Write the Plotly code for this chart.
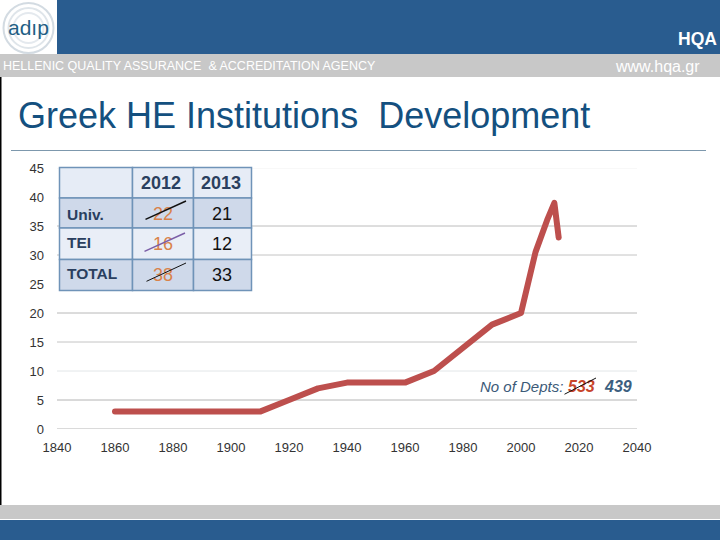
import plotly.graph_objects as go

W, H = 720, 540

years = [1860, 1880, 1900, 1910, 1920, 1930, 1940, 1950, 1960, 1970, 1980, 1990, 2000, 2005, 2009, 2011.5, 2013]
depts = [3, 3, 3, 3, 5, 7, 8, 8, 8, 10, 14, 18, 20, 30.5, 36, 39, 33]

grid_levels = [0, 5, 10, 15, 20, 30, 35, 45]
grid_colors = ["#b4b4b4", "#b4b4b4", "#e2e6e8", "#c4c4c4", "#b8b8b8", "#c4c4c4", "#bcbcbc", "#f2f2f2"]

table_header = ["", "2012", "2013"]
table_rows = ["Univ.", "TEI", "TOTAL"]
table_2012 = ["22", "16", "38"]
table_2013 = ["21", "12", "33"]

BLUE = "#295c8f"
GREY = "#c8c8c8"


def px(x):
    return x / W


def py(y):
    return 1 - y / H


def rect(x0, y0, x1, y1, fill, layer="below", border=None):
    return dict(type="rect", xref="paper", yref="paper", x0=px(x0), x1=px(x1), y0=py(y0), y1=py(y1),
                fillcolor=fill, line=dict(color=border, width=1.5 if border else 0), layer=layer)


def line(x0, y0, x1, y1, color, width=1):
    return dict(type="line", xref="paper", yref="paper", x0=px(x0), x1=px(x1), y0=py(y0), y1=py(y1),
                line=dict(color=color, width=width), layer="above")


def label(x, y, text, size, color, anchor="left"):
    return dict(xref="paper", yref="paper", x=px(x), y=py(y), text=text, showarrow=False, xanchor=anchor,
                yanchor="middle", borderpad=0, borderwidth=0,
                font=dict(family="Liberation Sans", size=size, color=color))


def strike(x0, y0, x1, y1, color, width):
    # drawn as an arrow without a head so it lies over the struck number
    return dict(xref="paper", yref="paper", x=px(x1), y=py(y1), ax=x0 - x1, ay=y0 - y1, text="", showarrow=True,
                arrowhead=0, arrowwidth=width, arrowcolor=color, standoff=0)


fig = go.Figure()

fig.add_trace(go.Scatter(x=years, y=depts, mode="lines", line=dict(color="#bd4f4d", width=6),
                         showlegend=False, hoverinfo="skip", cliponaxis=False))

shapes = [
    rect(0, 0, 720, 54, BLUE),
    rect(0, 54, 720, 77, GREY),
    rect(0, 77, 1.5, 505, "#000000"),
    rect(0, 505, 720, 519, GREY),
    rect(0, 520, 720, 540, BLUE),
    rect(0, 0, 57, 54, "#ffffff"),
    line(11, 150.5, 706, 150.5, "#7d98ad"),
]
for level, col in zip(grid_levels, grid_colors):
    shapes.append(dict(type="line", xref="paper", yref="y", x0=px(57), x1=px(637), y0=level, y1=level,
                       line=dict(color=col, width=1), layer="below"))
# logo rings
for r, col in [(25, "#d3dbe2"), (20, "#dfe5ea"), (15, "#e4e9ee")]:
    shapes.append(dict(type="circle", xref="paper", yref="paper", x0=px(28.5 - r), x1=px(28.5 + r),
                       y0=py(28 + r), y1=py(28 - r), line=dict(color=col, width=2), layer="above"))

annotations = [
    label(678, 39, "<b>HQA</b>", 17.5, "#ffffff"),
    label(3, 66.5, "HELLENIC QUALITY ASSURANCE  & ACCREDITATION AGENCY", 12.5, "#ffffff"),
    label(615, 66.5, "www.hqa.gr", 16, "#ffffff"),
    label(18, 115, "Greek HE Institutions  Development", 36, "#14507f"),
    label(28.5, 27, "adıp", 21, "#1f5f85", anchor="center"),
    label(480, 386.5, "<i>No of Depts: </i>", 15, "#3c5a78"),
    label(568, 386.5, "<b><i>533</i></b>", 16, "#c8452a"),
    label(604, 386.5, "<b><i>439</i></b>", 16, "#3c5f80"),
]

# table over the upper left of the plot, row 0 is the header
col_edges = [59.5, 132.5, 193.5, 251.5]
row_edges = [167.5, 198, 228, 259.5, 290.5]
row_fills = ["#e6ecf6", "#cfd9ea", "#e9eef7", "#cfd9ea"]
label_y = [214, 243, 273]
number_y = [214, 244.5, 275]
for r, fill in enumerate(row_fills):
    for c in range(3):
        shapes.append(rect(col_edges[c], row_edges[r], col_edges[c + 1], row_edges[r + 1], fill, border="#6f93b8"))

annotations.append(label(161, 183, f"<b>{table_header[1]}</b>", 18, "#2a3f5f", anchor="center"))
annotations.append(label(221, 183, f"<b>{table_header[2]}</b>", 18, "#2a3f5f", anchor="center"))
for r in range(3):
    annotations.append(label(67, label_y[r], f"<b>{table_rows[r]}</b>", 15.5, "#2a3f5f"))
    annotations.append(label(162.5, number_y[r], table_2012[r], 18, "#d9824a", anchor="center"))
    annotations.append(label(221.5, number_y[r], table_2013[r], 18, "#111111", anchor="center"))

annotations += [
    strike(144, 220, 186, 201, "#111111", 1.5),
    strike(143, 252, 185, 233, "#7b5ea7", 1.5),
    strike(145, 282, 186, 263, "#111111", 1),
    strike(563, 395, 596, 378, "#111111", 1),
]

fig.update_layout(
    width=W, height=H, autosize=False, margin=dict(l=0, r=0, t=0, b=0, pad=0),
    paper_bgcolor="#ffffff", plot_bgcolor="rgba(0,0,0,0)", showlegend=False,
    font=dict(family="Liberation Sans", size=12, color="#333333"),
    shapes=shapes, annotations=annotations,
    xaxis=dict(domain=[px(57), px(637)], range=[1840, 2040], dtick=20, tick0=1840, showgrid=False,
               zeroline=False, showline=False, ticks="", automargin=False, ticklabelstandoff=9,
               tickfont=dict(size=13, color="#333333")),
    yaxis=dict(domain=[py(429), py(168)], range=[0, 45], dtick=5, showgrid=False,
               zeroline=False, showline=False, ticks="", automargin=False, ticklabelstandoff=12,
               tickfont=dict(size=13, color="#333333")),
)

# the page's default body margin would push the figure 8px off, and the thick line has rounded ends
post = """document.body.style.margin = '0';
document.querySelectorAll('.js-line').forEach(function (p) {
    p.style.strokeLinecap = 'round';
    p.style.strokeLinejoin = 'round';
});"""
fig.write_html("out.html", post_script=post, config={"displayModeBar": False})
